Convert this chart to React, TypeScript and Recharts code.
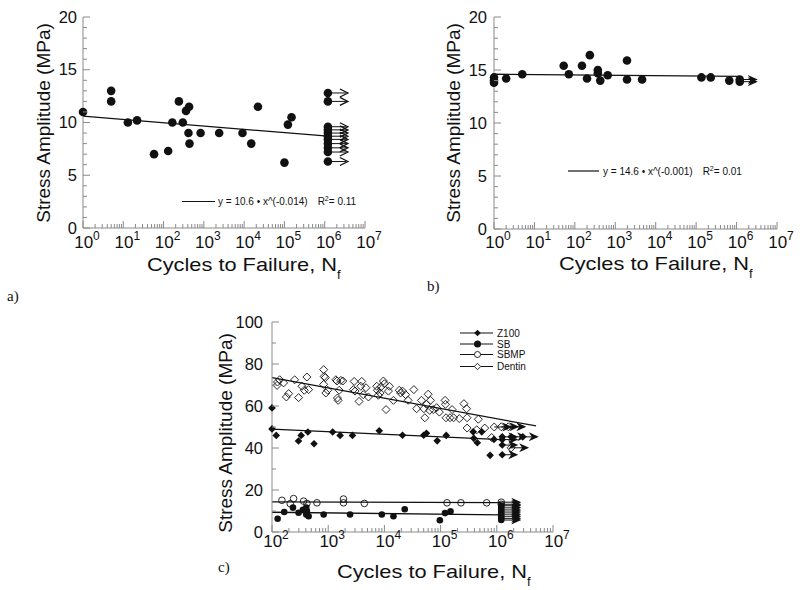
import { ScatterChart, Scatter, XAxis, YAxis, ReferenceLine } from 'recharts';

const FONT = '"Liberation Sans", Arial, sans-serif';
const SERIF = '"Liberation Serif", "DejaVu Serif", serif';
const AXIS = '#8a8a8a';
const INK = '#111';

// ---- panel a) : cycles, stress (MPa)
const aFailed: [number, number][] = [
  [1, 11], [5, 13], [5, 12], [13, 10], [22, 10.2], [58, 7], [130, 7.3], [165, 10],
  [240, 12], [300, 10], [360, 11.1], [430, 11.5], [415, 9], [440, 8], [830, 9],
  [2400, 9], [9100, 9], [15000, 8], [22000, 11.5], [100000, 6.2], [122000, 9.8], [150000, 10.5],
];
const aRunout: [number, number][] = [
  [1.2e6, 12.8], [1.2e6, 12.0], [1.2e6, 9.6], [1.2e6, 9.3], [1.2e6, 9.0], [1.2e6, 8.7],
  [1.2e6, 8.4], [1.2e6, 8.0], [1.2e6, 7.6], [1.2e6, 7.2], [1.2e6, 6.3],
];
const aFit: [number, number][] = [[1, 10.6], [1.2e6, 8.7]];

// ---- panel b)
const bFailed: [number, number][] = [
  [1, 14.3], [1, 14.0], [1, 13.8], [2, 14.2], [5, 14.6], [53, 15.4], [71, 14.6], [150, 15.4],
  [200, 14.2], [235, 16.4], [370, 15.0], [370, 14.7], [425, 14.0], [650, 14.5], [1950, 15.9],
  [1950, 14.1], [4600, 14.1], [135000, 14.3], [230000, 14.3], [660000, 14.0],
];
const bRunout: [number, number][] = [[1.2e6, 14.1], [1.2e6, 13.9]];
const bFit: [number, number][] = [[1, 14.6], [1.2e6, 14.4]];

// ---- panel c)
const z100Failed: [number, number][] = [
  [100, 59.1], [100, 49.1], [119, 46], [296, 43.3], [330, 46], [435, 47.6], [560, 42],
  [1200, 47.6], [1630, 46], [2700, 46], [8100, 48.2], [21000, 46.1], [50000, 46.1],
  [56000, 47], [87000, 43.4], [126000, 46], [380000, 47.7], [390000, 44.6], [450000, 42.5],
  [540000, 47.7], [760000, 36.5], [890000, 44.1],
];
const z100Runout: [number, number][] = [
  [1.25e6, 45.3], [1.25e6, 44], [1.25e6, 41.4], [1.25e6, 36.8], [1.8e6, 45.3], [2.9e6, 45.3],
];
const sbFailed: [number, number][] = [
  [126, 6.3], [165, 9.5], [236, 11.6], [297, 9.2], [355, 10.6], [407, 11.6], [418, 10],
  [407, 8.3], [448, 7.5], [830, 8.3], [2450, 8.3], [9000, 8.3], [14500, 7.5], [23000, 10.8],
  [97000, 5.6], [120000, 9], [150000, 9.8],
];
const sbRunout: [number, number][] = [
  [1.2e6, 12.5], [1.2e6, 11.5], [1.2e6, 10.5], [1.2e6, 9.5], [1.2e6, 8.5], [1.2e6, 7.5],
  [1.2e6, 6.5], [1.2e6, 5.7],
];
const sbmpFailed: [number, number][] = [
  [150, 15.1], [211, 13.5], [242, 15.9], [365, 14.7], [418, 13.6], [630, 13.9], [1870, 15.7],
  [1870, 13.9], [4400, 13.6], [130000, 13.9], [230000, 13.9], [660000, 13.9],
];
const sbmpRunout: [number, number][] = [[1.2e6, 14.2], [1.2e6, 13.2]];
const dentinFailed: [number, number][] = [
  [123, 69.8], [125, 71.4], [137, 72.5], [161, 71], [180, 64.3], [198, 65.9], [253, 72.5],
  [297, 64], [341, 69.4], [375, 67.5], [418, 73.8], [448, 67.8], [830, 77.3], [850, 74.1],
  [886, 73.5], [830, 70.3], [910, 66.2], [980, 67.5], [1370, 72.5], [1430, 71.9], [1570, 67.5],
  [1460, 63.8], [1500, 62.7], [1680, 72.2], [1820, 71.9], [2900, 71.7], [2800, 67.8], [3000, 67.1],
  [3540, 62.2], [3950, 71.7], [3800, 69.4], [4200, 65.4], [4700, 68.7], [5200, 64.3], [7300, 69.4],
  [7500, 67.5], [7800, 65.1], [8400, 66.2], [8600, 69], [9600, 71.9], [10000, 70.6], [10700, 58.3],
  [11800, 67.1], [12300, 69.4], [14500, 62.7], [18400, 67.5], [19400, 66.2], [21000, 67.1],
  [23900, 65.4], [26400, 62.7], [33400, 67.8], [37400, 58.7], [45700, 62.7], [50500, 58.7],
  [52500, 54.4], [56200, 60.8], [60000, 65.6], [64000, 57.9], [66000, 62.7], [74000, 58.3],
  [85000, 59.2], [95000, 57.1], [120000, 62.7], [122000, 60.8], [125000, 54.4], [147000, 54.4],
  [160000, 58.3], [170000, 54.4], [215000, 54], [260000, 61.1], [290000, 58.7], [296000, 54.4],
  [296000, 49.5], [440000, 48.7], [470000, 53.7], [610000, 49.5], [810000, 45],
];
const dentinRunout: [number, number][] = [
  [0.9e6, 50], [1.2e6, 50.1], [1.6e6, 50.1], [1.8e6, 40.1],
];
const z100Fit: [number, number][] = [[100, 49], [1.2e6, 44]];
const sbFit: [number, number][] = [[100, 9.4], [1.2e6, 8.2]];
const sbmpFit: [number, number][] = [[100, 14.3], [1.2e6, 14.0]];
const dentinFit: [number, number][] = [[100, 73.5], [5e6, 50.5]];

const legendNames = ['Z100', 'SB', 'SBMP', 'Dentin'];

const decadesAB = [1, 10, 100, 1e3, 1e4, 1e5, 1e6, 1e7];
const decadesC = [100, 1e3, 1e4, 1e5, 1e6, 1e7];

const withMinors = (decades: number[]) => {
  const out: number[] = [];
  decades.forEach((d, i) => {
    out.push(d);
    if (i < decades.length - 1) for (let k = 2; k <= 9; k++) out.push(d * k);
  });
  return out;
};
const toXY = (arr: [number, number][]) => arr.map(([x, y]) => ({ x, y }));

type Mark = 'dot' | 'ring' | 'diamond' | 'odiamond';

function marker(kind: Mark, cx: number, cy: number, s: number) {
  if (kind === 'dot') return <circle cx={cx} cy={cy} r={s} fill={INK} />;
  if (kind === 'ring') return <circle cx={cx} cy={cy} r={s} fill="none" stroke={INK} strokeWidth={0.9} />;
  const d = `M${cx} ${cy - s}L${cx + s} ${cy}L${cx} ${cy + s}L${cx - s} ${cy}Z`;
  if (kind === 'diamond') return <path d={d} fill={INK} />;
  return <path d={d} fill="none" stroke={INK} strokeWidth={0.9} />;
}

const pointShape = (kind: Mark, s: number) => (p: any) => <g>{marker(kind, p.cx, p.cy, s)}</g>;

// run-out (no failure) marker: symbol plus arrow to the right
const runoutShape = (kind: Mark, s: number, len: number, filled: boolean) => (p: any) => {
  const { cx, cy } = p;
  const tx = cx + len;
  return (
    <g>
      <line x1={cx} y1={cy} x2={tx - 2} y2={cy} stroke={INK} strokeWidth={1} />
      {filled ? (
        <path d={`M${tx} ${cy}L${tx - 10} ${cy - 4.5}L${tx - 7} ${cy}L${tx - 10} ${cy + 4.5}Z`} fill={INK} />
      ) : (
        <path d={`M${tx - 8} ${cy - 4}L${tx} ${cy}L${tx - 8} ${cy + 4}`} fill="none" stroke={INK} strokeWidth={1.3} />
      )}
      {marker(kind, cx, cy, s)}
    </g>
  );
};

const xTick = (labelDy: number) => (p: any) => {
  const v = p.payload.value;
  const lg = Math.log10(v);
  const e = Math.round(lg);
  const major = Math.abs(lg - e) < 1e-6;
  return (
    <g>
      <line x1={p.x} x2={p.x} y1={p.y} y2={p.y - (major ? 7 : 4)} stroke={AXIS} />
      {major && (
        <text x={p.x + 4} y={p.y + labelDy} textAnchor="middle" fontFamily={FONT} fontSize={17} fill={INK}>
          10<tspan dy={-8} fontSize={12}>{e}</tspan>
        </text>
      )}
    </g>
  );
};

const yTick = (majorStep: number, gap: number) => (p: any) => {
  const v = p.payload.value;
  const major = v % majorStep === 0;
  return (
    <g>
      <line x1={p.x} x2={p.x + (major ? 7 : 4)} y1={p.y} y2={p.y} stroke={AXIS} />
      {major && (
        <text x={p.x - gap} y={p.y} dy="0.34em" textAnchor="end" fontFamily={FONT} fontSize={16.5} fill={INK}>
          {v}
        </text>
      )}
    </g>
  );
};

const range = (a: number, b: number, step: number) => {
  const out: number[] = [];
  for (let v = a; v <= b; v += step) out.push(v);
  return out;
};

export default function App() {
  const fitStroke = { stroke: INK, strokeWidth: 1.3, ifOverflow: 'visible' as const };
  return (
    <div style={{ position: 'absolute', left: 0, top: 0, width: 800, height: 590, background: '#fff' }}>
      {/* a) */}
      <div style={{ position: 'absolute', left: 0, top: 0 }}>
        <ScatterChart width={400} height={300} margin={{ top: 17, right: 35, bottom: 0, left: 0 }}>
          <XAxis dataKey="x" type="number" scale="log" domain={[1, 1e7]} ticks={withMinors(decadesAB)} interval={0}
            height={72} tickSize={0} tickMargin={0} tickLine={false} axisLine={{ stroke: AXIS }} tick={xTick(20)} />
          <YAxis dataKey="y" type="number" domain={[0, 20]} ticks={range(0, 20, 1)} interval={0}
            width={83} tickSize={0} tickMargin={0} tickLine={false} axisLine={{ stroke: AXIS }} tick={yTick(5, 6)} />
          <ReferenceLine segment={toXY(aFit)} {...fitStroke} />
          <Scatter data={toXY(aFailed)} shape={pointShape('dot', 4.3)} isAnimationActive={false} />
          <Scatter data={toXY(aRunout)} shape={runoutShape('dot', 4.3, 20, false)} isAnimationActive={false} />
        </ScatterChart>
      </div>
      {/* b) */}
      <div style={{ position: 'absolute', left: 400, top: 0 }}>
        <ScatterChart width={400} height={300} margin={{ top: 17, right: 23, bottom: 0, left: 0 }}>
          <XAxis dataKey="x" type="number" scale="log" domain={[1, 1e7]} ticks={withMinors(decadesAB)} interval={0}
            height={71} tickSize={0} tickMargin={0} tickLine={false} axisLine={{ stroke: AXIS }} tick={xTick(19)} />
          <YAxis dataKey="y" type="number" domain={[0, 20]} ticks={range(0, 20, 1)} interval={0}
            width={94} tickSize={0} tickMargin={0} tickLine={false} axisLine={{ stroke: AXIS }} tick={yTick(5, 7)} />
          <ReferenceLine segment={toXY(bFit)} {...fitStroke} />
          <Scatter data={toXY(bFailed)} shape={pointShape('dot', 4.3)} isAnimationActive={false} />
          <Scatter data={toXY(bRunout)} shape={runoutShape('dot', 4.3, 18, true)} isAnimationActive={false} />
        </ScatterChart>
      </div>
      {/* c) */}
      <div style={{ position: 'absolute', left: 180, top: 300 }}>
        <ScatterChart width={420} height={290} margin={{ top: 22, right: 47, bottom: 0, left: 0 }}>
          <XAxis dataKey="x" type="number" scale="log" domain={[100, 1e7]} ticks={withMinors(decadesC)} interval={0}
            height={58} tickSize={0} tickMargin={0} tickLine={false} axisLine={{ stroke: AXIS }} tick={xTick(15)} />
          <YAxis dataKey="y" type="number" domain={[0, 100]} ticks={range(0, 100, 10)} interval={0}
            width={92} tickSize={0} tickMargin={0} tickLine={false} axisLine={{ stroke: AXIS }} tick={yTick(20, 9)} />
          <ReferenceLine segment={toXY(dentinFit)} {...fitStroke} />
          <ReferenceLine segment={toXY(z100Fit)} {...fitStroke} />
          <ReferenceLine segment={toXY(sbmpFit)} {...fitStroke} />
          <ReferenceLine segment={toXY(sbFit)} {...fitStroke} />
          <Scatter data={toXY(dentinFailed)} shape={pointShape('odiamond', 4)} isAnimationActive={false} />
          <Scatter data={toXY(dentinRunout)} shape={runoutShape('odiamond', 4, 18, true)} isAnimationActive={false} />
          <Scatter data={toXY(z100Failed)} shape={pointShape('diamond', 3.8)} isAnimationActive={false} />
          <Scatter data={toXY(z100Runout)} shape={runoutShape('diamond', 3.8, 16, true)} isAnimationActive={false} />
          <Scatter data={toXY(sbmpFailed)} shape={pointShape('ring', 3.3)} isAnimationActive={false} />
          <Scatter data={toXY(sbmpRunout)} shape={runoutShape('ring', 3.3, 20, true)} isAnimationActive={false} />
          <Scatter data={toXY(sbFailed)} shape={pointShape('dot', 3.3)} isAnimationActive={false} />
          <Scatter data={toXY(sbRunout)} shape={runoutShape('dot', 3.3, 20, true)} isAnimationActive={false} />
        </ScatterChart>
      </div>

      {/* titles, panel labels and legends */}
      <svg width={800} height={590} style={{ position: 'absolute', left: 0, top: 0, pointerEvents: 'none' }}>
        <g fontFamily={FONT} fill={INK}>
          <text transform="translate(50,123) rotate(-90)" textAnchor="middle" fontSize={19}>Stress Amplitude (MPa)</text>
          <text transform="translate(460,123) rotate(-90)" textAnchor="middle" fontSize={19}>Stress Amplitude (MPa)</text>
          <text transform="translate(232,433) rotate(-90)" textAnchor="middle" fontSize={19}>Stress Amplitude (MPa)</text>

          <text x={147} y={271} fontSize={19} textLength={190} lengthAdjust="spacingAndGlyphs">Cycles to Failure, N</text>
          <text x={337} y={279} fontSize={13}>f</text>
          <text x={559} y={270} fontSize={19} textLength={190} lengthAdjust="spacingAndGlyphs">Cycles to Failure, N</text>
          <text x={749} y={278} fontSize={13}>f</text>
          <text x={337} y={578} fontSize={19} textLength={190} lengthAdjust="spacingAndGlyphs">Cycles to Failure, N</text>
          <text x={527} y={586} fontSize={13}>f</text>

          <line x1={182} x2={215} y1={201.5} y2={201.5} stroke={INK} strokeWidth={1.2} />
          <text x={218} y={205} fontSize={10}>
            y = 10.6 • x^(-0.014)<tspan dx={10}>R</tspan><tspan dy={-4} fontSize={7}>2</tspan><tspan dy={4}>= 0.11</tspan>
          </text>
          <line x1={568} x2={599} y1={171} y2={171} stroke={INK} strokeWidth={1.2} />
          <text x={603} y={175} fontSize={10}>
            y = 14.6 • x^(-0.001)<tspan dx={10}>R</tspan><tspan dy={-4} fontSize={7}>2</tspan><tspan dy={4}>= 0.01</tspan>
          </text>

          {legendNames.map((name, i) => {
            const y = [333, 344, 354.5, 366.5][i];
            const kind: Mark[] = ['diamond', 'dot', 'ring', 'odiamond'];
            const size = [3.3, 3.5, 3, 3.2][i];
            return (
              <g key={name}>
                <line x1={460} x2={493} y1={y} y2={y} stroke={INK} strokeWidth={1} />
                {kind[i] === 'ring' || kind[i] === 'odiamond' ? (
                  <circle cx={477.5} cy={y} r={size} fill="#fff" />
                ) : null}
                {marker(kind[i], 477.5, y, size)}
                <text x={497} y={y + 3.6} fontSize={10}>{name}</text>
              </g>
            );
          })}
        </g>
        <g fontFamily={SERIF} fill={INK} fontSize={15}>
          <text x={7} y={301}>a)</text>
          <text x={427} y={291}>b)</text>
          <text x={218} y={572}>c)</text>
        </g>
      </svg>
    </div>
  );
}
